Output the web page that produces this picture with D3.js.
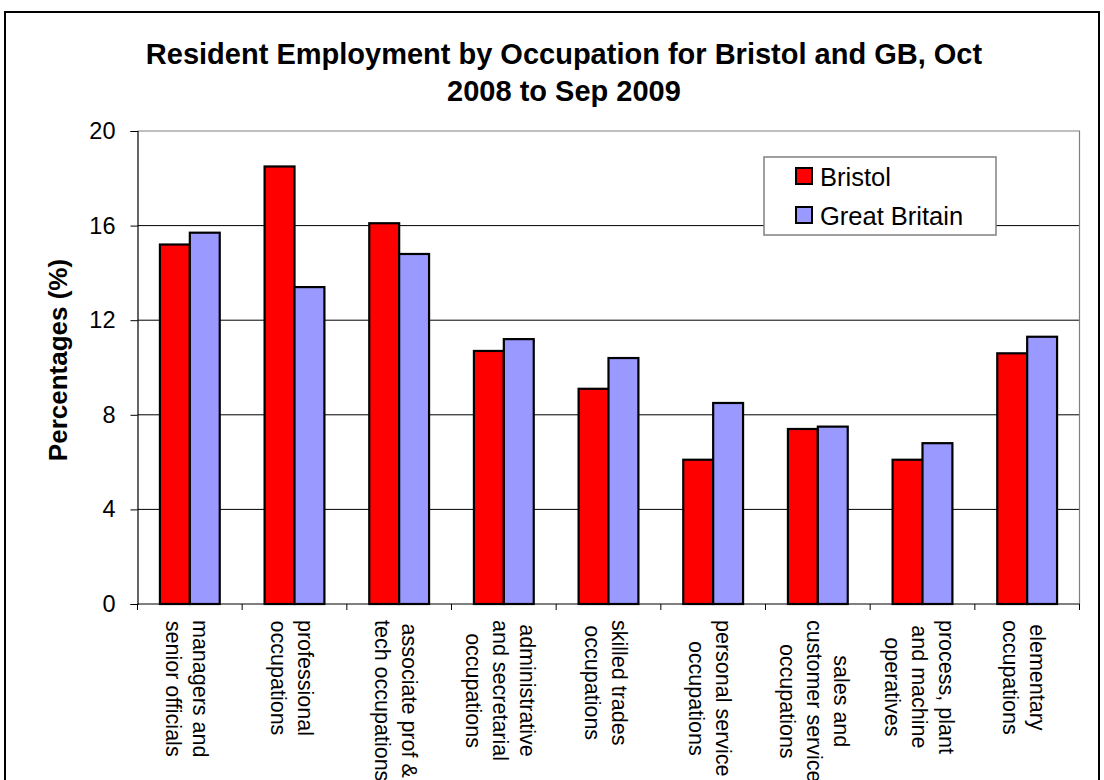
<!DOCTYPE html>
<html>
<head>
<meta charset="utf-8">
<script src="https://cdn.jsdelivr.net/npm/d3@7"></script>
<style>
  html, body { margin: 0; padding: 0; background: #fff; }
  svg { display: block; font-family: "Liberation Sans", Arial, sans-serif; }
</style>
</head>
<body>
<svg id="chart" width="1104" height="780"></svg>
<script>
// Occupation groups (each entry is the wrapped label, one string per line)
const categories = [
  ["managers and", "senior officials"],
  ["professional", "occupations"],
  ["associate prof &", "tech occupations"],
  ["administrative", "and secretarial", "occupations"],
  ["skilled trades", "occupations"],
  ["personal service", "occupations"],
  ["sales and", "customer service", "occupations"],
  ["process, plant", "and machine", "operatives"],
  ["elementary", "occupations"]
];
const seriesNames = ["Bristol", "Great Britain"];
const bristol = [15.2, 18.5, 16.1, 10.7, 9.1, 6.1, 7.4, 6.1, 10.6];
const greatBritain = [15.7, 13.4, 14.8, 11.2, 10.4, 8.5, 7.5, 6.8, 11.3];
const yTicks = [0, 4, 8, 12, 16, 20];
const titleLines = ["Resident Employment by Occupation for Bristol and GB, Oct", "2008 to Sep 2009"];
const yTitle = "Percentages (%)";
const colors = ["#FF0000", "#9999FF"];

const svg = d3.select("#chart");

// outer chart frame
svg.append("rect")
  .attr("x", 5).attr("y", 12).attr("width", 1094).attr("height", 800)
  .attr("fill", "#fff").attr("stroke", "#000").attr("stroke-width", 2);

const plot = { left: 137.5, right: 1079.5, top: 131, bottom: 604 };

const x = d3.scaleBand()
  .domain(d3.range(categories.length))
  .range([plot.left, plot.right]);
const xs = d3.scaleBand()
  .domain(d3.range(seriesNames.length))
  .range([0, x.bandwidth()])
  .paddingInner(0)
  .paddingOuter(0.75);
const y = d3.scaleLinear().domain([0, 20]).range([plot.bottom, plot.top]);

// gridlines
svg.append("g")
  .selectAll("line")
  .data(yTicks.filter(t => t > 0 && t < 20))
  .join("line")
  .attr("x1", plot.left).attr("x2", plot.right)
  .attr("y1", d => y(d)).attr("y2", d => y(d))
  .attr("stroke", "#000").attr("stroke-width", 1);

// plot area border (top and right)
svg.append("path")
  .attr("d", `M${plot.left},${plot.top}H${plot.right}V${plot.bottom}`)
  .attr("fill", "none").attr("stroke", "#808080").attr("stroke-width", 1.2);

// bars
const rows = categories.map((c, i) => [bristol[i], greatBritain[i]]);
const groups = svg.append("g")
  .selectAll("g")
  .data(rows)
  .join("g")
  .attr("transform", (d, i) => `translate(${x(i)},0)`);
groups.selectAll("rect")
  .data(d => d.map((v, s) => ({ v, s })))
  .join("rect")
  .attr("x", d => xs(d.s))
  .attr("width", xs.bandwidth())
  .attr("y", d => y(d.v))
  .attr("height", d => y(0) - y(d.v))
  .attr("fill", d => colors[d.s])
  .attr("stroke", "#000")
  .attr("stroke-width", 2.2);

// y axis
const yAxis = svg.append("g")
  .attr("transform", `translate(${plot.left},0)`)
  .call(d3.axisLeft(y).tickValues(yTicks).tickSize(7).tickPadding(15).tickFormat(d3.format("d")));
yAxis.select(".domain").attr("stroke", "#000").attr("stroke-width", 1.2);
yAxis.selectAll(".tick line").attr("stroke", "#000");
yAxis.selectAll(".tick text")
  .attr("font-size", 23.5).attr("fill", "#000")
  .attr("font-family", "Liberation Sans, Arial, sans-serif");

// x axis baseline with ticks at category boundaries
svg.append("line")
  .attr("x1", plot.left).attr("x2", plot.right)
  .attr("y1", plot.bottom).attr("y2", plot.bottom)
  .attr("stroke", "#000").attr("stroke-width", 1.2);
svg.append("g")
  .selectAll("line")
  .data(d3.range(categories.length + 1))
  .join("line")
  .attr("x1", i => plot.left + i * x.step())
  .attr("x2", i => plot.left + i * x.step())
  .attr("y1", plot.bottom).attr("y2", plot.bottom + 6)
  .attr("stroke", "#000");

// category labels, rotated to read downward, lines centred on each other
const labelTop = 620;
const pitch = 27;
categories.forEach((lines, i) => {
  const cx = x(i) + x.bandwidth() / 2 - 3;
  const g = svg.append("g")
    .attr("transform", `translate(${cx},${labelTop}) rotate(90)`);
  const texts = lines.map((ln, k) =>
    g.append("text")
      .attr("font-size", 21.5)
      .attr("fill", "#000")
      .attr("text-anchor", "middle")
      .attr("y", (k - (lines.length - 1) / 2) * pitch + 7.5)
      .text(ln));
  const maxLen = d3.max(texts, t => t.node().getComputedTextLength());
  texts.forEach(t => t.attr("x", maxLen / 2));
});

// title
svg.append("g")
  .selectAll("text")
  .data(titleLines)
  .join("text")
  .attr("x", 564)
  .attr("y", (d, i) => 64 + i * 37)
  .attr("text-anchor", "middle")
  .attr("font-size", 29)
  .attr("font-weight", "bold")
  .text(d => d);

// y axis title
svg.append("text")
  .attr("transform", "translate(67,360) rotate(-90)")
  .attr("text-anchor", "middle")
  .attr("font-size", 26)
  .attr("font-weight", "bold")
  .text(yTitle);

// legend
const legend = svg.append("g");
legend.append("rect")
  .attr("x", 764).attr("y", 157).attr("width", 232).attr("height", 78)
  .attr("fill", "#fff").attr("stroke", "#808080").attr("stroke-width", 1.5);
const items = legend.selectAll("g.item")
  .data(seriesNames)
  .join("g")
  .attr("class", "item")
  .attr("transform", (d, i) => `translate(796,${168 + i * 39})`);
items.append("rect")
  .attr("width", 16).attr("height", 16)
  .attr("fill", (d, i) => colors[i])
  .attr("stroke", "#000").attr("stroke-width", 2);
items.append("text")
  .attr("x", 24).attr("y", 17.5)
  .attr("font-size", 25.5)
  .text(d => d);
</script>
</body>
</html>
